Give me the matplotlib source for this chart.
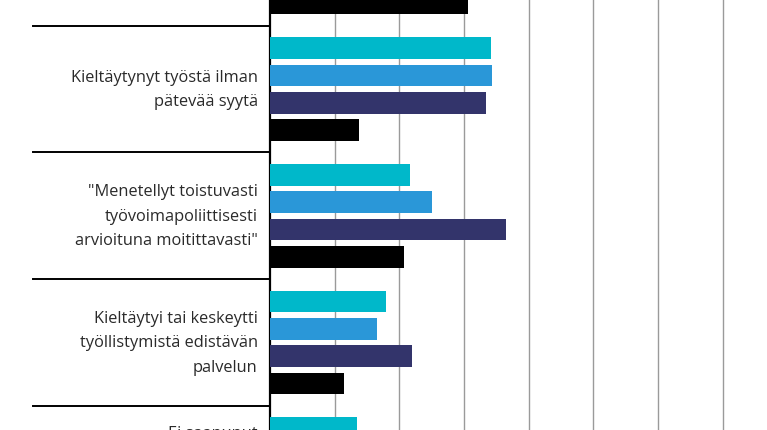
import numpy as np
import matplotlib
matplotlib.use("Agg")
import matplotlib.pyplot as plt

# categories (top to bottom); the first and last are only partly in view
categories = [
    "Laiminlyönyt\ntyönhakuvelvollisuuden",
    "Kieltäytynyt työstä ilman\npätevää syytä",
    "\"Menetellyt toistuvasti\ntyövoimapoliittisesti\narvioituna moitittavasti\"",
    "Kieltäytyi tai keskeytti\ntyöllistymistä edistävän\npalvelun",
    "Ei saapunut\ntyövoimatoimistoon\nsovittuna\najankohtana",
]
# four series per category, values in grid units (nan = outside the visible crop)
series_a = [np.nan, 3.42, 2.17, 1.80, 1.35]
series_b = [np.nan, 3.44, 2.50, 1.66, np.nan]
series_c = [np.nan, 3.34, 3.65, 2.19, np.nan]
series_d = [3.06, 1.37, 2.07, 1.14, np.nan]
colors = ["#00b8ca", "#2a97d8", "#33346b", "#000000"]

fig = plt.figure(figsize=(7.67, 4.31), dpi=100)
ax = fig.add_axes([270 / 767, 0, 497 / 767, 1])

y = np.arange(len(categories))
pitch = 27.3 / 126.7
height = 21.7 / 126.7
for k, (vals, c) in enumerate(zip([series_a, series_b, series_c, series_d], colors)):
    ax.barh(y + (k - 1.5) * pitch, vals, height=height, color=c, zorder=3)

ax.set_xticks(np.arange(1, 8))
ax.xaxis.grid(True, color="#9a9a9a", linewidth=1.0, zorder=0)
ax.tick_params(axis="x", length=0, labelbottom=False)
ax.set_yticks([])

# only a window of the full chart is shown
ax.set_xlim(0, 497 / 64.67)
ax.set_ylim(1 + (431 - 90.1) / 126.7, 1 + (0 - 90.1) / 126.7)

# category labels as texts so that partly visible ones still draw
for yi, lab in zip(y, categories):
    ax.annotate(lab, xy=(0, yi), xycoords=ax.get_yaxis_transform(),
                xytext=(-8.8, 0), textcoords="offset points",
                ha="right", va="center", multialignment="right",
                fontsize=11.8, color="#2a2a2a", family="Open Sans",
                linespacing=1.7, annotation_clip=False)

for s in ["top", "right", "bottom"]:
    ax.spines[s].set_visible(False)
ax.spines["left"].set_linewidth(1.6)
ax.spines["left"].set_color("black")

# separators between categories, reaching into the label area
for b in y[:-1] + 0.5:
    ax.plot([-237 / 497, 0], [b, b], transform=ax.get_yaxis_transform(),
            color="black", linewidth=1.4, clip_on=False)

fig.savefig("out.png", dpi=100)
plt.close()
